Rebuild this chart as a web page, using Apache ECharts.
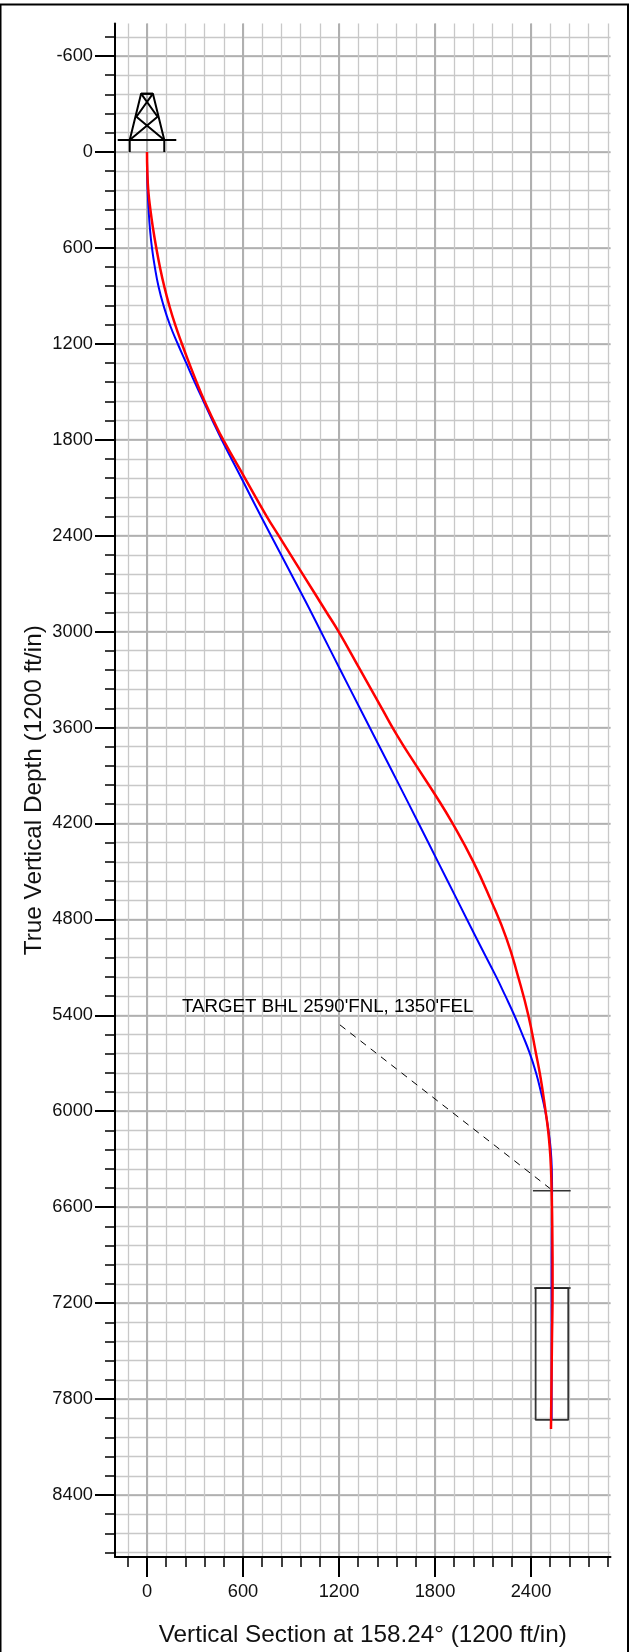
<!DOCTYPE html>
<html><head><meta charset="utf-8">
<style>html,body{margin:0;padding:0;background:#fff}#c{width:629px;height:1652px}</style>
<script src="https://cdn.jsdelivr.net/npm/echarts@6/dist/echarts.min.js"></script>
</head><body><div id="c"></div>
<script>
const xMajorTicks = [0,600,1200,1800,2400];
const xMinorTicks = [-120,0,120,240,360,480,600,720,840,960,1080,1200,1320,1440,1560,1680,1800,1920,2040,2160,2280,2400,2520,2640,2760,2880];
const yMajorTicks = [-600,0,600,1200,1800,2400,3000,3600,4200,4800,5400,6000,6600,7200,7800,8400];
const yMinorTicks = [-720,-600,-480,-360,-240,-120,0,120,240,360,480,600,720,840,960,1080,1200,1320,1440,1560,1680,1800,1920,2040,2160,2280,2400,2520,2640,2760,2880,3000,3120,3240,3360,3480,3600,3720,3840,3960,4080,4200,4320,4440,4560,4680,4800,4920,5040,5160,5280,5400,5520,5640,5760,5880,6000,6120,6240,6360,6480,6600,6720,6840,6960,7080,7200,7320,7440,7560,7680,7800,7920,8040,8160,8280,8400,8520,8640,8760];

const plannedPath = [[0,0],[1,120],[4,240],[10,360],[19,487],[31,600],[49,721],[72,842],[103,960],[143,1081],[192,1200],[245,1320],[298,1440],[353,1560],[409,1680],[467,1800],[590,2040],[712,2279],[838,2520],[985,2800],[1086,2998],[1207,3237],[1329,3477],[1452,3717],[1574,3956],[1698,4200],[1818,4439],[1937,4675],[2060,4920],[2183,5160],[2240,5279],[2295,5398],[2345,5517],[2392,5637],[2431,5758],[2463,5883],[2489,5998],[2509,6119],[2523,6237],[2530,6358],[2532,6498],[2530,6716],[2529,7106],[2529,7931]];
const actualPath = [[0,0],[2,120],[8,240],[21,360],[39,487],[58,600],[81,721],[108,842],[139,960],[176,1081],[218,1200],[263,1320],[310,1440],[360,1560],[416,1680],[476,1800],[612,2040],[748,2279],[822,2398],[972,2639],[1122,2879],[1196,2998],[1331,3237],[1466,3477],[1566,3654],[1685,3842],[1800,4019],[1910,4200],[2039,4439],[2147,4675],[2247,4920],[2320,5160],[2383,5398],[2431,5637],[2460,5791],[2491,5998],[2507,6119],[2518,6237],[2525,6358],[2529,6498],[2533,6716],[2535,7106],[2531,7446],[2527,7800],[2525,7987]];

const targetTick = [[2412,6498],[2648,6498]];
const targetBox = [[2429,7106],[2633,7106],[2633,7931],[2429,7931],[2429,7106]];
const targetBoxTop = [[2420,7106],[2648,7106]];
const leaderLine = [[1206,5460],[2525,6488]];
const targetLabel = [[219,5350]];
const targetText = "TARGET BHL 2590'FNL, 1350'FEL";

const derrickFloor = [[-183,-75],[183,-75]];
const derrickLegL = [[-108,0],[-108,-75],[-37,-364],[37,-364],[108,-75],[108,0]];
const derrickBraces = [[-108,-75],[66,-220],[-37,-364],[37,-364],[-66,-220],[108,-75]];

const xTitle = "Vertical Section at 158.24° (1200 ft/in)";
const yTitle = "True Vertical Depth (1200 ft/in)";
const xMin=-200,xMax=2897,yMin=-803,yMax=8788;
const FONT='"Liberation Sans",Arial,sans-serif';
const plain=v=>String(v);

function ln(data,color,width,extra){return Object.assign({type:'line',xAxisIndex:1,yAxisIndex:1,data,showSymbol:false,symbol:'none',silent:true,
  lineStyle:{color,width},z:3},extra||{});}

const chart=echarts.init(document.getElementById('c'),null,{renderer:'canvas'});
chart.setOption({
 animation:false,backgroundColor:'#fff',
 grid:{left:115,top:23.5,width:495.5,height:1534.5,containLabel:false},
 graphic:[{type:'rect',z:100,shape:{x:0.5,y:4.5,width:627.5,height:1660},style:{fill:'none',stroke:'#000',lineWidth:2}}],
 xAxis:[
  {type:'value',position:'bottom',min:xMin,max:xMax,
   axisLine:{show:false,onZero:false},axisLabel:{show:false},
   axisTick:{show:true,customValues:xMinorTicks,length:10,lineStyle:{color:'#000',width:1.5}},
   splitLine:{show:true,lineStyle:{color:'#c8c8c8',width:1.3}}},
  {type:'value',position:'bottom',min:xMin,max:xMax,
   axisLine:{show:true,onZero:false,lineStyle:{color:'#000',width:2}},
   axisTick:{show:true,customValues:xMajorTicks,length:20,lineStyle:{color:'#000',width:2}},
   axisLabel:{show:true,customValues:xMajorTicks,formatter:plain,margin:26,fontFamily:FONT,fontSize:18.3,color:'#111'},
   splitLine:{show:true,lineStyle:{color:'#b0b0b0',width:2}},
   name:xTitle,nameLocation:'middle',nameGap:66,nameTextStyle:{fontFamily:FONT,fontSize:24.3,color:'#111'}}
 ],
 yAxis:[
  {type:'value',position:'left',inverse:true,min:yMin,max:yMax,
   axisLine:{show:false,onZero:false},axisLabel:{show:false},
   axisTick:{show:true,customValues:yMinorTicks,length:10,lineStyle:{color:'#000',width:1.5}},
   splitLine:{show:true,lineStyle:{color:'#c8c8c8',width:1.3}}},
  {type:'value',position:'left',inverse:true,min:yMin,max:yMax,
   axisLine:{show:true,onZero:false,lineStyle:{color:'#000',width:2}},
   axisTick:{show:true,customValues:yMajorTicks,length:20,lineStyle:{color:'#000',width:2}},
   axisLabel:{show:true,customValues:yMajorTicks,formatter:plain,margin:22,fontFamily:FONT,fontSize:18.3,color:'#111'},
   splitLine:{show:true,lineStyle:{color:'#a8a8a8',width:1.6}},
   name:yTitle,nameLocation:'middle',nameGap:68.5,nameRotate:90,nameMoveOverlap:false,nameTextStyle:{fontFamily:FONT,fontSize:24.3,color:'#111'}}
 ],
 series:[
  ln(derrickFloor,'#000',2),
  ln(derrickLegL,'#000',2),
  ln(derrickBraces,'#000',2),
  ln(targetTick,'#333',1.5),
  ln(targetBox,'#333',1.8),
  ln(targetBoxTop,'#222',1.5),
  ln(leaderLine,'#000',1,{lineStyle:{color:'#000',width:1,type:[7,6]}}),
  ln(plannedPath,'#0000ff',2,{smooth:0.5,z:4}),
  ln(actualPath,'#ff0000',2.5,{smooth:0.5,z:5}),
  {type:'scatter',xAxisIndex:1,yAxisIndex:1,data:targetLabel,symbolSize:0,silent:true,z:6,
   label:{show:true,position:'right',distance:0,formatter:targetText,fontFamily:FONT,fontSize:18.7,color:'#000',opacity:1,textBorderWidth:0}}
 ]
});
</script></body></html>
